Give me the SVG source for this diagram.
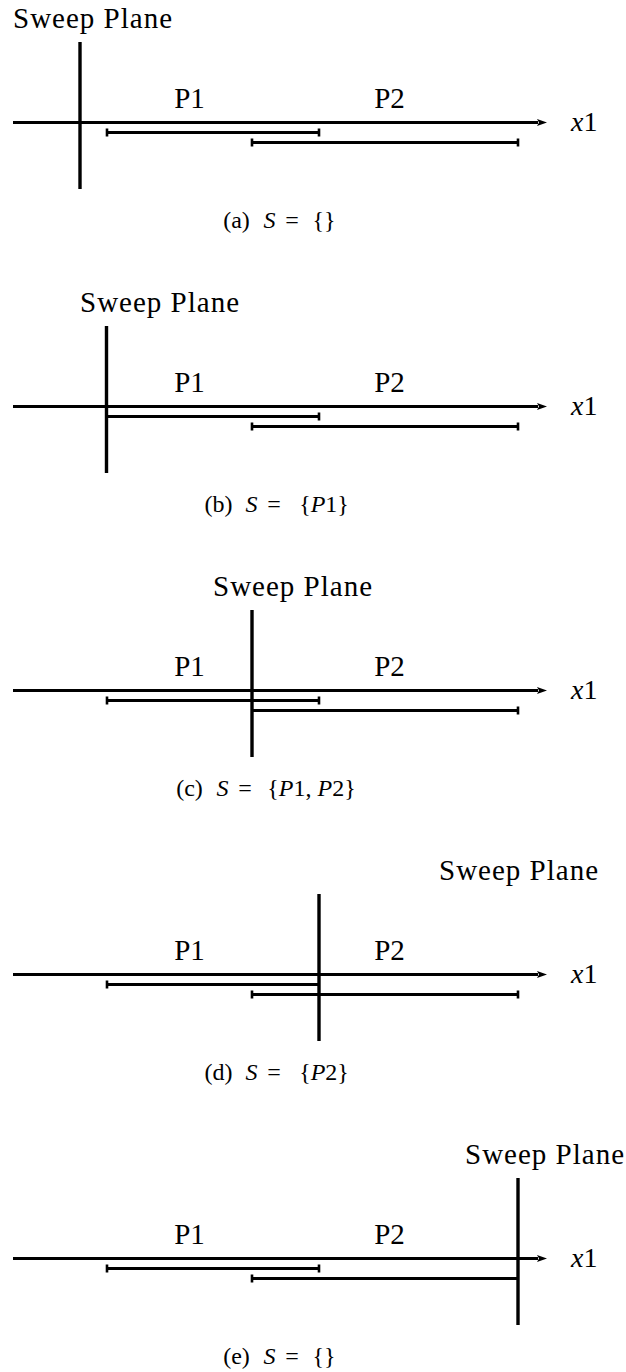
<svg xmlns="http://www.w3.org/2000/svg" width="626" height="1372" viewBox="0 0 626 1372" font-family="'Liberation Serif', serif">
<style>
text, tspan { font-family: 'Liberation Serif', 'Times New Roman', serif !important; }
</style>
<defs>
<marker id="arr" markerUnits="userSpaceOnUse" markerWidth="12" markerHeight="10" refX="1" refY="5" orient="auto" viewBox="0 0 12 10">
<path d="M0,1.5 L10,5 L0,8.5 L2,5 Z" fill="#000"/>
</marker>
<line id="tk" x1="0" y1="-4" x2="0" y2="4" stroke="#000" stroke-width="2.6"/>
</defs>
<rect x="0" y="0" width="626" height="1372" fill="#fff"/>

<g id="panel-a">
<text style="font-family:'Liberation Serif',serif !important" font-size="29" x="13" y="28" textLength="159" lengthAdjust="spacing" fill="#000">Sweep Plane</text>
<g id="connectors-a" stroke="#000" fill="none">
<line x1="13" y1="122.5" x2="538" y2="122.5" stroke-width="2.8" marker-end="url(#arr)"/>
</g>
<g id="P1-a" stroke="#000" stroke-width="3.2">
<line x1="107" y1="132.5" x2="319" y2="132.5"/>
<use href="#tk" x="107" y="132.5"/><use href="#tk" x="319" y="132.5"/>
</g>
<g id="P2-a" stroke="#000" stroke-width="3.2">
<line x1="252" y1="142.5" x2="518" y2="142.5"/>
<use href="#tk" x="252" y="142.5"/><use href="#tk" x="518" y="142.5"/>
</g>
<line x1="80" y1="42" x2="80" y2="189" stroke="#000" stroke-width="3.4"/>
<text style="font-family:'Liberation Serif',serif !important" font-size="29" x="189.5" y="108" text-anchor="middle" fill="#000">P1</text>
<text style="font-family:'Liberation Serif',serif !important" font-size="29" x="389.5" y="108" text-anchor="middle" fill="#000">P2</text>
<text style="font-family:'Liberation Serif',serif !important" font-size="28" x="571" y="131" fill="#000"><tspan font-style="italic">x</tspan>1</text>
<text style="font-family:'Liberation Serif',serif !important" font-size="24" y="228" text-anchor="middle" fill="#000"><tspan x="236.5">(a)</tspan><tspan x="269.5" font-style="italic">S</tspan><tspan x="292">=</tspan><tspan x="324">{}</tspan></text>
</g>

<g id="panel-b" transform="translate(0,284)">
<text style="font-family:'Liberation Serif',serif !important" font-size="29" x="80" y="28" textLength="159" lengthAdjust="spacing" fill="#000">Sweep Plane</text>
<g id="connectors-b" stroke="#000" fill="none">
<line x1="13" y1="122.5" x2="538" y2="122.5" stroke-width="2.8" marker-end="url(#arr)"/>
</g>
<g id="P1-b" stroke="#000" stroke-width="3.2">
<line x1="107" y1="132.5" x2="319" y2="132.5"/>
<use href="#tk" x="319" y="132.5"/>
</g>
<g id="P2-b" stroke="#000" stroke-width="3.2">
<line x1="252" y1="142.5" x2="518" y2="142.5"/>
<use href="#tk" x="252" y="142.5"/><use href="#tk" x="518" y="142.5"/>
</g>
<line x1="106.5" y1="42" x2="106.5" y2="189" stroke="#000" stroke-width="3.4"/>
<text style="font-family:'Liberation Serif',serif !important" font-size="29" x="189.5" y="108" text-anchor="middle" fill="#000">P1</text>
<text style="font-family:'Liberation Serif',serif !important" font-size="29" x="389.5" y="108" text-anchor="middle" fill="#000">P2</text>
<text style="font-family:'Liberation Serif',serif !important" font-size="28" x="571" y="131" fill="#000"><tspan font-style="italic">x</tspan>1</text>
<text style="font-family:'Liberation Serif',serif !important" font-size="24" y="228" text-anchor="middle" fill="#000"><tspan x="218.5">(b)</tspan><tspan x="251.5" font-style="italic">S</tspan><tspan x="274">=</tspan><tspan x="324">{<tspan font-style="italic">P</tspan>1}</tspan></text>
</g>

<g id="panel-c" transform="translate(0,568)">
<text style="font-family:'Liberation Serif',serif !important" font-size="29" x="213" y="28" textLength="159" lengthAdjust="spacing" fill="#000">Sweep Plane</text>
<g id="connectors-c" stroke="#000" fill="none">
<line x1="13" y1="122.5" x2="538" y2="122.5" stroke-width="2.8" marker-end="url(#arr)"/>
</g>
<g id="P1-c" stroke="#000" stroke-width="3.2">
<line x1="107" y1="132.5" x2="319" y2="132.5"/>
<use href="#tk" x="107" y="132.5"/><use href="#tk" x="319" y="132.5"/>
</g>
<g id="P2-c" stroke="#000" stroke-width="3.2">
<line x1="252" y1="142.5" x2="518" y2="142.5"/>
<use href="#tk" x="518" y="142.5"/>
</g>
<line x1="252" y1="42" x2="252" y2="189" stroke="#000" stroke-width="3.4"/>
<text style="font-family:'Liberation Serif',serif !important" font-size="29" x="189.5" y="108" text-anchor="middle" fill="#000">P1</text>
<text style="font-family:'Liberation Serif',serif !important" font-size="29" x="389.5" y="108" text-anchor="middle" fill="#000">P2</text>
<text style="font-family:'Liberation Serif',serif !important" font-size="28" x="571" y="131" fill="#000"><tspan font-style="italic">x</tspan>1</text>
<text style="font-family:'Liberation Serif',serif !important" font-size="24" y="228" text-anchor="middle" fill="#000"><tspan x="189.5">(c)</tspan><tspan x="222.5" font-style="italic">S</tspan><tspan x="245">=</tspan><tspan x="311.5">{<tspan font-style="italic">P</tspan>1, <tspan font-style="italic">P</tspan>2}</tspan></text>
</g>

<g id="panel-d" transform="translate(0,852)">
<text style="font-family:'Liberation Serif',serif !important" font-size="29" x="439" y="28" textLength="159" lengthAdjust="spacing" fill="#000">Sweep Plane</text>
<g id="connectors-d" stroke="#000" fill="none">
<line x1="13" y1="122.5" x2="538" y2="122.5" stroke-width="2.8" marker-end="url(#arr)"/>
</g>
<g id="P1-d" stroke="#000" stroke-width="3.2">
<line x1="107" y1="132.5" x2="319" y2="132.5"/>
<use href="#tk" x="107" y="132.5"/>
</g>
<g id="P2-d" stroke="#000" stroke-width="3.2">
<line x1="252" y1="142.5" x2="518" y2="142.5"/>
<use href="#tk" x="252" y="142.5"/><use href="#tk" x="518" y="142.5"/>
</g>
<line x1="319" y1="42" x2="319" y2="189" stroke="#000" stroke-width="3.4"/>
<text style="font-family:'Liberation Serif',serif !important" font-size="29" x="189.5" y="108" text-anchor="middle" fill="#000">P1</text>
<text style="font-family:'Liberation Serif',serif !important" font-size="29" x="389.5" y="108" text-anchor="middle" fill="#000">P2</text>
<text style="font-family:'Liberation Serif',serif !important" font-size="28" x="571" y="131" fill="#000"><tspan font-style="italic">x</tspan>1</text>
<text style="font-family:'Liberation Serif',serif !important" font-size="24" y="228" text-anchor="middle" fill="#000"><tspan x="218.5">(d)</tspan><tspan x="251.5" font-style="italic">S</tspan><tspan x="274">=</tspan><tspan x="324">{<tspan font-style="italic">P</tspan>2}</tspan></text>
</g>

<g id="panel-e" transform="translate(0,1136)">
<text style="font-family:'Liberation Serif',serif !important" font-size="29" x="465" y="28" textLength="159" lengthAdjust="spacing" fill="#000">Sweep Plane</text>
<g id="connectors-e" stroke="#000" fill="none">
<line x1="13" y1="122.5" x2="538" y2="122.5" stroke-width="2.8" marker-end="url(#arr)"/>
</g>
<g id="P1-e" stroke="#000" stroke-width="3.2">
<line x1="107" y1="132.5" x2="319" y2="132.5"/>
<use href="#tk" x="107" y="132.5"/><use href="#tk" x="319" y="132.5"/>
</g>
<g id="P2-e" stroke="#000" stroke-width="3.2">
<line x1="252" y1="142.5" x2="518" y2="142.5"/>
<use href="#tk" x="252" y="142.5"/>
</g>
<line x1="518" y1="42" x2="518" y2="189" stroke="#000" stroke-width="3.4"/>
<text style="font-family:'Liberation Serif',serif !important" font-size="29" x="189.5" y="108" text-anchor="middle" fill="#000">P1</text>
<text style="font-family:'Liberation Serif',serif !important" font-size="29" x="389.5" y="108" text-anchor="middle" fill="#000">P2</text>
<text style="font-family:'Liberation Serif',serif !important" font-size="28" x="571" y="131" fill="#000"><tspan font-style="italic">x</tspan>1</text>
<text style="font-family:'Liberation Serif',serif !important" font-size="24" y="228" text-anchor="middle" fill="#000"><tspan x="236.5">(e)</tspan><tspan x="269.5" font-style="italic">S</tspan><tspan x="292">=</tspan><tspan x="324">{}</tspan></text>
</g>
</svg>
